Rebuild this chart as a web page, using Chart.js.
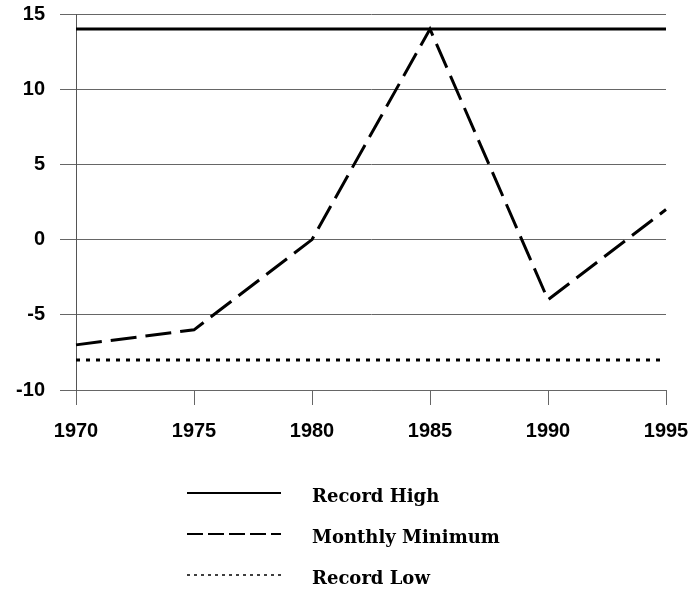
<!DOCTYPE html>
<html>
<head>
<meta charset="utf-8">
<script src="https://cdn.jsdelivr.net/npm/chart.js@4.4.0/dist/chart.umd.min.js"></script>
<style>
  html, body { margin: 0; padding: 0; background: #fff; }
  #wrap { width: 691px; height: 590px; }
</style>
</head>
<body>
<div id="wrap"><canvas id="chart" width="691" height="590"></canvas></div>
<script>
// === Data ===
const years = ["1970", "1975", "1980", "1985", "1990", "1995"];
const recordHigh = [14, 14, 14, 14, 14, 14];
const monthlyMinimum = [-7, -6, 0, 14, -4, 2];
const recordLow = [-8, -8, -8, -8, -8, -8];
const seriesNames = ["Record High", "Monthly Minimum", "Record Low"];

// legend samples drawn under the plot
const legendPlugin = {
  id: "bottomLegend",
  afterDraw(chart) {
    const ctx = chart.ctx;
    const rows = [
      { y: 493, dash: [], width: 2 },
      { y: 534, dash: [16, 5], width: 2 },
      { y: 575, dash: [3, 4], width: 1.5 },
    ];
    ctx.save();
    rows.forEach((r, i) => {
      ctx.beginPath();
      ctx.setLineDash(r.dash);
      ctx.lineWidth = r.width;
      ctx.strokeStyle = "#000";
      ctx.moveTo(187, r.y);
      ctx.lineTo(281, r.y);
      ctx.stroke();
      ctx.setLineDash([]);
      ctx.fillStyle = "#000";
      ctx.font = "bold 18px 'DejaVu Serif'";
      ctx.textBaseline = "middle";
      ctx.textAlign = "left";
      ctx.fillText(seriesNames[i], 312, r.y + 4);
    });
    ctx.restore();
  },
};

// drop the automatic label overflow padding so the plot box lands where we want
function noPad(scale) {
  scale.paddingTop = 0;
  scale.paddingBottom = 0;
  scale.paddingLeft = 0;
  scale.paddingRight = 0;
}

new Chart(document.getElementById("chart"), {
  type: "line",
  data: {
    labels: years,
    datasets: [
      {
        label: seriesNames[0],
        data: recordHigh,
        borderColor: "#000",
        borderWidth: 3,
        pointRadius: 0,
      },
      {
        label: seriesNames[1],
        data: monthlyMinimum,
        borderColor: "#000",
        borderWidth: 3,
        borderDash: [26, 9],
        pointRadius: 0,
      },
      {
        label: seriesNames[2],
        data: recordLow,
        borderColor: "#000",
        borderWidth: 3,
        borderDash: [4, 6],
        pointRadius: 0,
      },
    ],
  },
  options: {
    responsive: false,
    animation: false,
    layout: { padding: { top: 14, right: 25, bottom: 140, left: 0 } },
    plugins: { legend: { display: false }, tooltip: { enabled: false } },
    scales: {
      x: {
        offset: false,
        grid: {
          drawOnChartArea: false,
          drawTicks: true,
          tickLength: 15,
          color: "#666",
        },
        border: { color: "#666" },
        ticks: {
          color: "#000",
          font: { family: "'Liberation Sans'", size: 20, weight: "bold" },
          padding: 14,
          maxRotation: 0,
        },
        afterFit(scale) {
          scale.height = 60;
          noPad(scale);
        },
      },
      y: {
        min: -10,
        max: 15,
        grid: { color: "#666", tickLength: 16 },
        border: { color: "#555" },
        ticks: {
          stepSize: 5,
          color: "#000",
          font: { family: "'Liberation Sans'", size: 20, weight: "bold" },
          padding: 15,
        },
        afterFit(scale) {
          scale.width = 76;
          noPad(scale);
        },
      },
    },
  },
  plugins: [legendPlugin],
});
</script>
</body>
</html>
